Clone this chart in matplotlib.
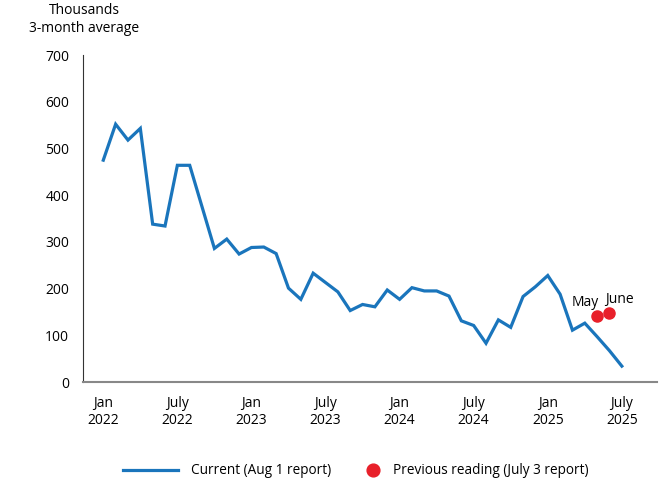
import matplotlib.pyplot as plt
import numpy as np

plt.rcParams['font.family'] = ['Open Sans', 'DejaVu Sans']

# monthly 3-month average, Jan 2022 .. July 2025 (thousands)
current = [475, 552, 518, 543, 338, 334, 464, 464, 375, 286, 306, 274,
           288, 289, 275, 201, 177, 233, 213, 193, 153, 166, 161, 197,
           177, 202, 195, 195, 184, 131, 121, 83, 133, 117, 183, 204,
           228, 188, 111, 126, 97, 67, 34]
months = np.arange(len(current))

# previous reading (July 3 report)
prev_months = [40, 41]
prev_values = [141, 148]
prev_labels = ['May', 'June']

tick_pos = [0, 6, 12, 18, 24, 30, 36, 42]
tick_labels = ['Jan\n2022', 'July\n2022', 'Jan\n2023', 'July\n2023',
               'Jan\n2024', 'July\n2024', 'Jan\n2025', 'July\n2025']

blue = '#1a75bc'
red = '#e8202a'

fig = plt.figure(figsize=(6.59, 4.79), dpi=100)
ax = fig.add_axes([0.126, 0.2025, 0.871, 0.6825])

line, = ax.plot(months, current, color=blue, lw=2.3, solid_joinstyle='miter')
dots, = ax.plot(prev_months, prev_values, 'o', color=red, ms=8, ls='none')

ax.text(prev_months[0] - 0.95, prev_values[0] + 13, prev_labels[0],
        ha='center', va='bottom', fontsize=10)
ax.text(prev_months[1] + 0.8, prev_values[1] + 12, prev_labels[1],
        ha='center', va='bottom', fontsize=10)

ax.set_xlim(-1.64, 44.85)
ax.set_ylim(0, 700)
ax.set_yticks(range(0, 701, 100))
ax.set_xticks(tick_pos)
ax.set_xticklabels(tick_labels)
ax.tick_params(length=0, labelsize=10)
ax.tick_params(axis='x', pad=10)
ax.tick_params(axis='y', pad=10)

for s in ['top', 'right']:
    ax.spines[s].set_visible(False)
ax.spines['left'].set_color('#333333')
ax.spines['left'].set_linewidth(0.8)
ax.spines['bottom'].set_color('#888888')
ax.spines['bottom'].set_linewidth(1.5)

fig.text(0.128, 0.96, 'Thousands\n3-month average', ha='center', va='center',
         fontsize=10, linespacing=1.3)

fig.legend([line], ['Current (Aug 1 report)'], loc='center left',
           bbox_to_anchor=(0.187, 0.017), frameon=False, fontsize=9.8,
           borderpad=0, borderaxespad=0, handlelength=4.0, handletextpad=0.95)
fig.legend([dots], ['Previous reading (July 3 report)'], loc='center left',
           bbox_to_anchor=(0.554, 0.017), frameon=False, fontsize=9.8,
           borderpad=0, borderaxespad=0, handlelength=1.1, handletextpad=0.95,
           markerscale=1.15)

fig.savefig('out.png', dpi=100)
